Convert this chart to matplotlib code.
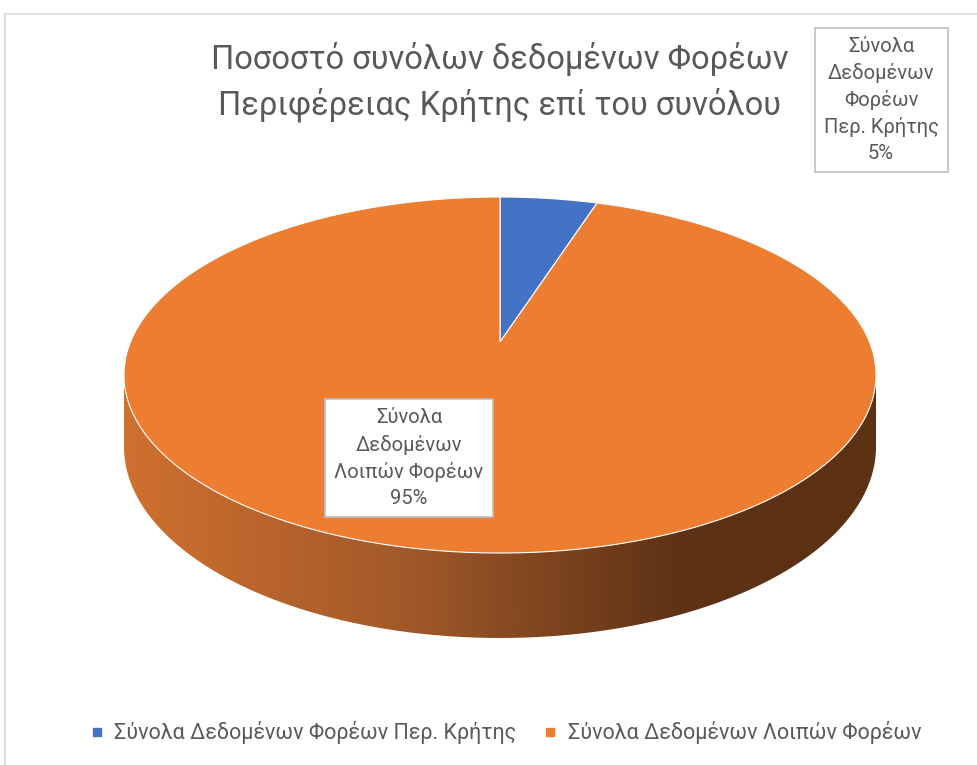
import numpy as np
import matplotlib
matplotlib.use('Agg')
import matplotlib.pyplot as plt
from matplotlib.patches import Polygon, Rectangle
from matplotlib.lines import Line2D
from matplotlib.colors import LinearSegmentedColormap

plt.rcParams['font.family'] = ['Roboto', 'DejaVu Sans']

# Data
categories = ['Σύνολα Δεδομένων Φορέων Περ. Κρήτης', 'Σύνολα Δεδομένων Λοιπών Φορέων']
values = [5, 95]
label_lines = [['Σύνολα', 'Δεδομένων', 'Φορέων', 'Περ. Κρήτης'],
               ['Σύνολα', 'Δεδομένων', 'Λοιπών Φορέων']]
colors = ['#4472C4', '#ED7D31']
title = 'Ποσοστό συνόλων δεδομένων Φορέων\nΠεριφέρειας Κρήτης επί του συνόλου'

W, H = 978, 765
fig = plt.figure(figsize=(W / 100, H / 100), dpi=100)
ax = fig.add_axes([0, 0, 1, 1])
ax.set_xlim(0, W)
ax.set_ylim(H, 0)
ax.axis('off')

# chart frame
ax.add_patch(Rectangle((5, 14), W + 20, H + 20, fc='white', ec='#D9D9D9', lw=1.2, zorder=0))

# perspective disc: centre, half axes, tilt factor, thickness
cx, cy = 500, 342
A, B, k = 369.5, 171.9, 0.1854
depth = 69.2


def proj(phi, d=0.0):
    u, v = np.sin(phi), np.cos(phi)
    w = 1 + k * v
    return cx + A * u / w, cy - B * v / w + d / w


# side wall (front part between silhouette points)
phi0 = np.arccos(-k)
phis = np.linspace(phi0, 2 * np.pi - phi0, 200)
tx, ty = proj(phis)
bx, by = proj(phis[::-1], depth)
side = Polygon(np.column_stack([np.r_[tx, bx], np.r_[ty, by]]), closed=True,
               fc='none', ec='none')
ax.add_patch(side)
shade = LinearSegmentedColormap.from_list('shade', ['#CF702E', '#A2592A', '#5C3114', '#5C3114'])
grad = np.linspace(0, 1, 512).reshape(1, -1)
img = ax.imshow(grad, cmap=shade, extent=(124, 876 + 90, 700, 300), aspect='auto', zorder=1)
img.set_clip_path(side)

# top face slices, clockwise from 12 o'clock
total = sum(values)
start = 0.0
for val, col in zip(values, colors):
    sweep = 2 * np.pi * val / total
    ph = np.linspace(start, start + sweep, max(int(val * 4), 10))
    px, py = proj(ph)
    ax.add_patch(Polygon(np.column_stack([np.r_[cx, px], np.r_[cy, py]]), closed=True,
                         fc=col, ec='white', lw=0.8, zorder=2))
    start += sweep

# label boxes
pct = [f'{round(100 * v / total)}%' for v in values]
box_pos = [(881, 100), (409, 458)]
for lines, p, (x, y) in zip(label_lines, pct, box_pos):
    ax.text(x, y, '\n'.join(lines + [p]), ha='center', va='center', fontsize=14.5,
            color='#595959', linespacing=1.45, zorder=5,
            bbox=dict(boxstyle='square,pad=0.45', fc='white', ec='#BFBFBF', lw=1.2))

ax.text(500, 82, title, ha='center', va='center', fontsize=23.5, color='#595959',
        linespacing=1.45)

handles = [Line2D([], [], marker='s', ls='', color=c, markersize=6) for c in colors]
fig.legend(handles, categories, loc='center', bbox_to_anchor=(0.517, 1 - 733 / H),
           ncol=2, frameon=False, fontsize=15.5, labelcolor='#595959',
           handlelength=0.6, handletextpad=0.5, columnspacing=1.3)

fig.savefig('out.png', dpi=100)
